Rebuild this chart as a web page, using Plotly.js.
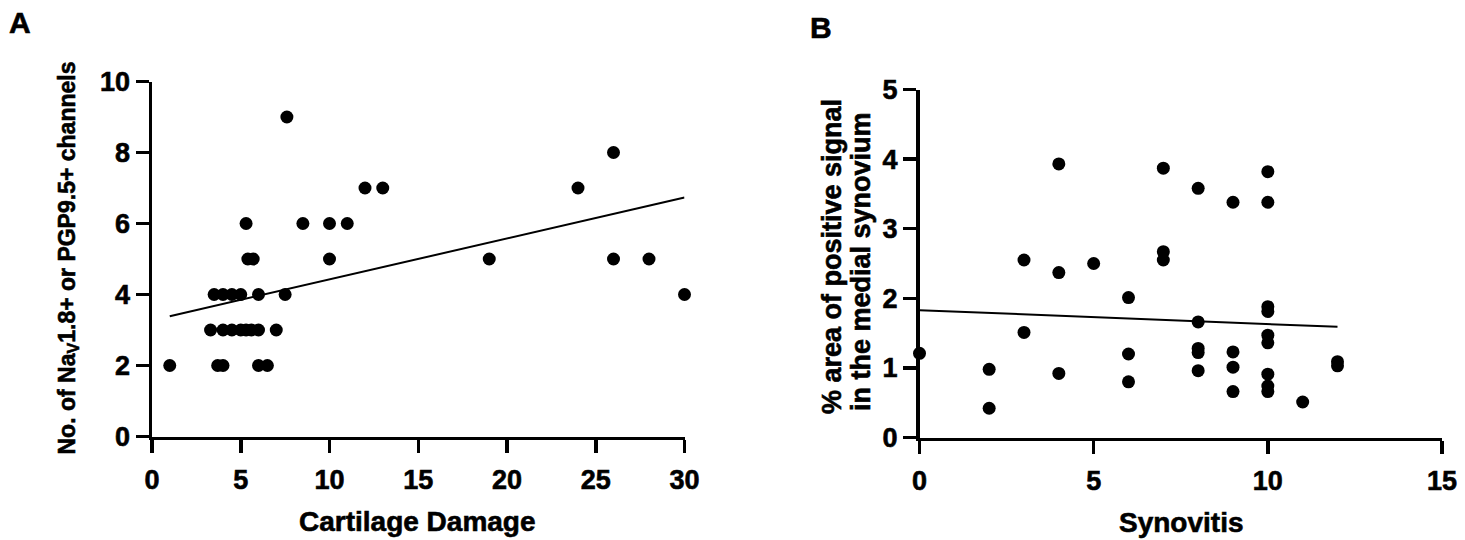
<!DOCTYPE html>
<html>
<head>
<meta charset="utf-8">
<script src="https://cdn.plot.ly/plotly-3.0.1.min.js"></script>
<style>
html,body{margin:0;padding:0;background:#fff;}
#chart{width:1465px;height:540px;}
#chart .xtick text, #chart .ytick text, #chart .x2tick text, #chart .y2tick text,
#chart .annotation-text { stroke: #000; stroke-width: 0.6px; }
</style>
</head>
<body>
<div id="chart"></div>
<script>
// Panel A: Cartilage damage vs No. of NaV1.8+ or PGP9.5+ channels
var cartilageDamage = [1, 3.7, 4.0, 6.0, 6.5,
  3.3, 4.0, 4.5, 5.0, 5.3, 5.6, 6.0, 7.0,
  3.5, 4.0, 4.5, 5.0, 6.0, 7.5,
  5.4, 5.7, 10, 19, 26, 28,
  5.3, 8.5, 10, 11,
  12, 13, 24,
  26, 7.6, 30];
var channels = [2, 2, 2, 2, 2,
  3, 3, 3, 3, 3, 3, 3, 3,
  4, 4, 4, 4, 4, 4,
  5, 5, 5, 5, 5, 5,
  6, 6, 6, 6,
  7, 7, 7,
  8, 9, 4];
var fitAX = [1, 30];
var fitAY = [3.39, 6.73];

// Panel B: Synovitis vs % area of positive signal in the medial synovium
var synovitis = [0, 2, 2, 3, 3, 4, 4, 4, 5, 6, 6, 6, 7, 7, 7,
  8, 8, 8, 8, 8, 9, 9, 9, 9,
  10, 10, 10, 10, 10, 10, 10, 10, 10, 11, 12, 12];
var areaSignal = [1.21, 0.98, 0.42, 2.55, 1.51, 3.93, 2.37, 0.92, 2.50, 2.01, 1.20, 0.80, 3.87, 2.67, 2.55,
  3.58, 1.66, 1.28, 1.22, 0.96, 3.38, 1.23, 1.01, 0.66,
  3.82, 3.38, 1.88, 1.81, 1.47, 1.36, 0.91, 0.74, 0.66, 0.51, 1.09, 1.03];
var fitBX = [0, 12];
var fitBY = [1.83, 1.59];

var xTicksA = [0, 5, 10, 15, 20, 25, 30];
var yTicksA = [0, 2, 4, 6, 8, 10];
var xTicksB = [0, 5, 10, 15];
var yTicksB = [0, 1, 2, 3, 4, 5];

var W = 1465, H = 540;
function px(x){ return x / W; }
function py(y){ return 1 - y / H; }
function bold(arr){ return arr.map(function(v){ return '<b>' + v + '</b>'; }); }

var FONT = "Liberation Sans, Arial, Helvetica, sans-serif";
var tickFont = {family: FONT, size: 27, color: '#000', weight: 700};

function axisBase(extra){
  var a = {
    showline: true, linecolor: '#000', linewidth: 3.5,
    ticks: 'outside', ticklen: 13, tickwidth: 3.5, tickcolor: '#000',
    showgrid: false, zeroline: false, tickfont: tickFont,
    tickmode: 'array', fixedrange: true
  };
  for (var k in extra) a[k] = extra[k];
  return a;
}

var traces = [
  {x: cartilageDamage, y: channels, type: 'scatter', mode: 'markers',
   marker: {color: '#000', size: 13}, xaxis: 'x', yaxis: 'y', cliponaxis: false},
  {x: fitAX, y: fitAY, type: 'scatter', mode: 'lines',
   line: {color: '#000', width: 2}, xaxis: 'x', yaxis: 'y'},
  {x: synovitis, y: areaSignal, type: 'scatter', mode: 'markers',
   marker: {color: '#000', size: 13}, xaxis: 'x2', yaxis: 'y2', cliponaxis: false},
  {x: fitBX, y: fitBY, type: 'scatter', mode: 'lines',
   line: {color: '#000', width: 2}, xaxis: 'x2', yaxis: 'y2'}
];

function f(size){ return {family: FONT, size: size, color: '#000', weight: 700}; }

var layout = {
  width: W, height: H,
  margin: {l: 0, r: 0, t: 0, b: 0},
  paper_bgcolor: '#fff', plot_bgcolor: 'rgba(0,0,0,0)',
  showlegend: false,
  xaxis: axisBase({domain: [px(152), px(684.5)], range: [0, 30], tickvals: xTicksA, ticktext: bold(xTicksA), anchor: 'y', ticklabelstandoff: 4}),
  yaxis: axisBase({domain: [py(436.5), py(81.5)], range: [0, 10], tickvals: yTicksA, ticktext: bold(yTicksA), anchor: 'x', ticklabelstandoff: 0}),
  xaxis2: axisBase({domain: [px(919.5), px(1442)], range: [0, 15], tickvals: xTicksB, ticktext: bold(xTicksB), anchor: 'y2', ticklabelstandoff: 4}),
  yaxis2: axisBase({domain: [py(437.5), py(89.5)], range: [0, 5], tickvals: yTicksB, ticktext: bold(yTicksB), anchor: 'x2', ticklabelstandoff: 0}),
  annotations: [
    {text: '<b>A</b>', x: px(20), y: py(22), xref: 'paper', yref: 'paper', showarrow: false,
     xanchor: 'center', yanchor: 'middle', font: f(30)},
    {text: '<b>B</b>', x: px(821), y: py(27), xref: 'paper', yref: 'paper', showarrow: false,
     xanchor: 'center', yanchor: 'middle', font: f(30)},
    {text: '<b>Cartilage Damage</b>', x: px(417), y: py(521), xref: 'paper', yref: 'paper', showarrow: false,
     xanchor: 'center', yanchor: 'middle', font: f(28)},
    {text: '<b>Synovitis</b>', x: px(1180.5), y: py(522), xref: 'paper', yref: 'paper', showarrow: false,
     xanchor: 'center', yanchor: 'middle', font: f(28)},
    {text: '<b>No. of Na<sub>V</sub>1.8+ or PGP9.5+ channels</b>', x: px(67.5), y: py(258), xref: 'paper', yref: 'paper', showarrow: false,
     textangle: -90, xanchor: 'center', yanchor: 'middle', font: f(23)},
    {text: '<b>% area of positive signal</b>', x: px(832), y: py(257), xref: 'paper', yref: 'paper', showarrow: false,
     textangle: -90, xanchor: 'center', yanchor: 'middle', font: f(27)},
    {text: '<b>in the medial synovium</b>', x: px(861), y: py(262), xref: 'paper', yref: 'paper', showarrow: false,
     textangle: -90, xanchor: 'center', yanchor: 'middle', font: f(27)}
  ]
};

Plotly.newPlot('chart', traces, layout, {displayModeBar: false, staticPlot: true});
</script>
</body>
</html>
